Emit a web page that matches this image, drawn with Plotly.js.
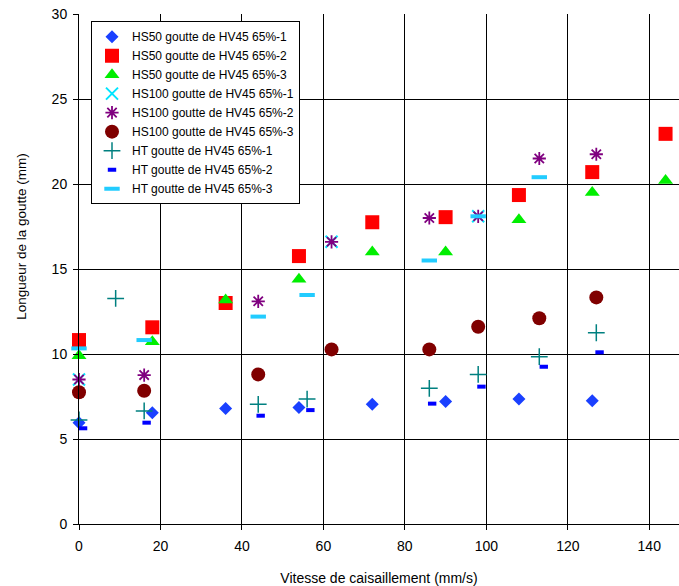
<!DOCTYPE html>
<html>
<head>
<meta charset="utf-8">
<script src="https://cdn.plot.ly/plotly-3.0.1.min.js"></script>
<style>html,body{margin:0;padding:0;background:#fff;}#chart{width:679px;height:586px;}</style>
</head>
<body>
<div id="chart"></div>
<script>
// ---- data ----
const hs50_1_x = [0, 18, 36, 54, 72, 90, 108, 126];
const hs50_1_y = [5.95, 6.55, 6.8, 6.85, 7.05, 7.2, 7.35, 7.25];

const hs50_2_x = [0, 18, 36, 54, 72, 90, 108, 126, 144];
const hs50_2_y = [10.82, 11.57, 13.0, 15.76, 17.75, 18.05, 19.35, 20.7, 22.95];

const hs50_3_x = [0, 18, 36, 54, 72, 90, 108, 126, 144];
const hs50_3_y = [9.9, 10.72, 13.18, 14.4, 16.0, 16.0, 17.9, 19.5, 20.2];

const hs100_1_x = [0, 62, 98];
const hs100_1_y = [8.5, 16.6, 18.1];

const hs100_2_x = [0, 16, 44, 62, 86, 98, 113, 127];
const hs100_2_y = [8.5, 8.76, 13.1, 16.6, 18.0, 18.1, 21.5, 21.75];

const hs100_3_x = [0, 16, 44, 62, 86, 98, 113, 127];
const hs100_3_y = [7.75, 7.84, 8.8, 10.27, 10.27, 11.6, 12.1, 13.33];

const ht_1_x = [0, 9, 16, 44, 56, 86, 98, 113, 127];
const ht_1_y = [6.12, 13.27, 6.65, 7.04, 7.35, 7.98, 8.8, 9.84, 11.25];

const ht_2_x = [1, 16.6, 44.6, 56.8, 86.7, 98.8, 114.1, 127.8];
const ht_2_y = [5.63, 5.96, 6.37, 6.7, 7.08, 8.08, 9.25, 10.1];

const ht_3_x = [0, 16, 44, 56, 86, 98, 113];
const ht_3_y = [10.33, 10.82, 12.2, 13.47, 15.5, 18.1, 20.4];

const seriesNames = [
  "HS50 goutte de HV45 65%-1",
  "HS50 goutte de HV45 65%-2",
  "HS50 goutte de HV45 65%-3",
  "HS100 goutte de HV45 65%-1",
  "HS100 goutte de HV45 65%-2",
  "HS100 goutte de HV45 65%-3",
  "HT goutte de HV45 65%-1",
  "HT goutte de HV45 65%-2",
  "HT goutte de HV45 65%-3"
];

const FONT = "Arial, 'Liberation Sans', sans-serif";

function pts(x, y, name, marker) {
  return {type: "scatter", mode: "markers", x: x, y: y, name: name, marker: marker, cliponaxis: false};
}

const traces = [
  pts(hs50_1_x, hs50_1_y, seriesNames[0], {symbol: "diamond", size: 10, color: "#1a40ff", line: {width: 0}}),
  pts(hs50_2_x, hs50_2_y, seriesNames[1], {symbol: "square", size: 14, color: "#ff0000", line: {width: 0}}),
  pts(hs50_3_x, hs50_3_y, seriesNames[2], {symbol: "triangle-up", size: 13, color: "#00ee00", line: {width: 0}}),
  pts(hs100_1_x, hs100_1_y, seriesNames[3], {symbol: "x-thin", size: 12, color: "#00e5ff", line: {width: 2, color: "#00e5ff"}}),
  pts(hs100_2_x, hs100_2_y, seriesNames[4], {symbol: "asterisk", size: 11, color: "#800080", line: {width: 1.8, color: "#800080"}}),
  pts(hs100_3_x, hs100_3_y, seriesNames[5], {symbol: "circle", size: 14, color: "#800000", line: {width: 0}}),
  pts(ht_1_x, ht_1_y, seriesNames[6], {symbol: "cross-thin", size: 12, color: "#008080", line: {width: 1.5, color: "#008080"}}),
  pts(ht_2_x, ht_2_y, seriesNames[7], {symbol: "line-ew", size: 6, color: "#0000ff", line: {width: 4, color: "#0000ff"}}),
  pts(ht_3_x, ht_3_y, seriesNames[8], {symbol: "line-ew", size: 11, color: "#22ccff", line: {width: 4, color: "#22ccff"}})
];

const layout = {
  width: 679, height: 586,
  margin: {l: 79, r: 0, t: 14, b: 62},
  paper_bgcolor: "#ffffff", plot_bgcolor: "#ffffff",
  font: {family: FONT, color: "#000000", size: 12},
  showlegend: true,
  legend: {
    x: 0.02, y: 0.986, xanchor: "left", yanchor: "top",
    bgcolor: "#ffffff", bordercolor: "#000000", borderwidth: 1,
    font: {family: FONT, size: 12, color: "#000000"},
    tracegroupgap: 0
  },
  xaxis: {
    range: [0, 147.3], tick0: 0, dtick: 20,
    showgrid: true, gridcolor: "#000000", gridwidth: 1,
    showline: true, linecolor: "#000000", linewidth: 1,
    ticks: "outside", ticklen: 5, tickcolor: "#000000",
    ticklabelstandoff: 4,
    zeroline: false,
    tickfont: {family: FONT, size: 14, color: "#000000"},
    title: {text: "Vitesse de caisaillement (mm/s)", font: {family: FONT, size: 14, color: "#000000"}, standoff: 20}
  },
  yaxis: {
    range: [0, 30], tick0: 0, dtick: 5,
    showgrid: true, gridcolor: "#000000", gridwidth: 1,
    showline: true, linecolor: "#000000", linewidth: 1,
    ticks: "outside", ticklen: 5, tickcolor: "#000000",
    ticklabelstandoff: 3,
    zeroline: false,
    tickfont: {family: FONT, size: 14, color: "#000000"}
  },
  annotations: [{
    text: "Longueur de la goutte (mm)",
    xref: "paper", yref: "paper",
    x: -0.095, y: 0.563, xanchor: "center", yanchor: "middle",
    textangle: -90, showarrow: false,
    font: {family: FONT, size: 13.5, color: "#000000"}
  }]
};

Plotly.newPlot("chart", traces, layout, {displayModeBar: false, staticPlot: true});
</script>
</body>
</html>
